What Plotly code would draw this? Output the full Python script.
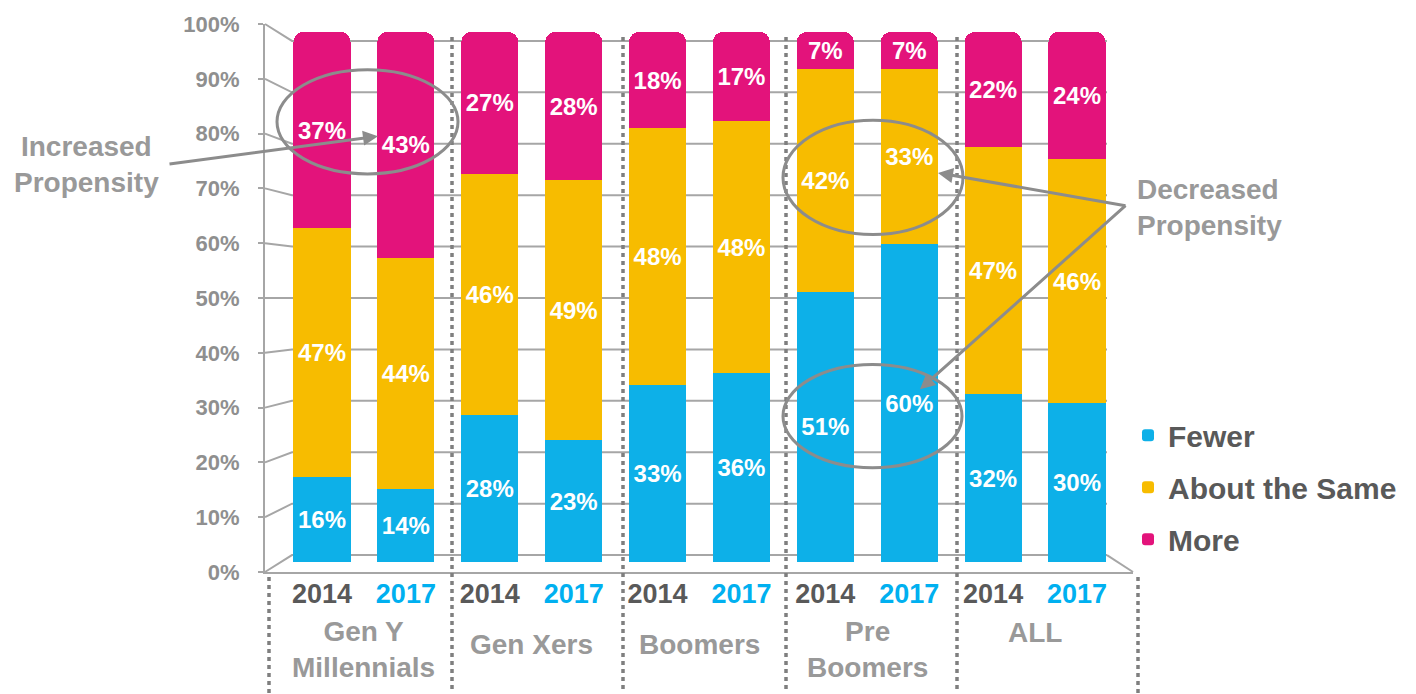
import plotly.graph_objects as go

# ---------------- data ----------------
groups = ["Gen Y<br>Millennials", "Gen Xers", "Boomers", "Pre<br>Boomers", "ALL"]
years = ["2014", "2017"]
series_names = ["Fewer", "About the Same", "More"]
fewer = [16, 14, 28, 23, 33, 36, 51, 60, 32, 30]
about_same = [47, 44, 46, 49, 48, 48, 42, 33, 47, 46]
more = [37, 43, 27, 28, 18, 17, 7, 7, 22, 24]
y_tick_values = [0, 10, 20, 30, 40, 50, 60, 70, 80, 90, 100]

# ---------------- style ----------------
FONT = "Liberation Sans, Arial, sans-serif"
colors = ["#0DB0E8", "#F7BC00", "#E3137B"]
GREY_TXT = "#999999"
GREY_AX = "#a6a6a6"
GREY_ANN = "#8c8c8c"
DARK = "#595959"
BLUE = "#00B0F0"

W, H = 1416, 694
PL, PR, PT, PB = 265, 1133, 20, 572          # plot area in pixels
BAR_BASE, BAR_TOP = 562, 28                   # pixel rows of 0% and 100% for the bars
FRONT_PER = (PB - PT) / 100.0                 # front axis scale (labels)
BACK_BASE, BACK_TOP = 555, 37                 # back wall grid
BACK_L, BACK_R = 292, 1107

def xp(px):
    return (px - PL) / (PR - PL)

def yp(py):
    return (PB - py) / (PB - PT)

# bar axis range so that 0 -> BAR_BASE and 100 -> BAR_TOP
bar_scale = (BAR_BASE - BAR_TOP) / 100.0
y_lo = -(PB - BAR_BASE) / bar_scale
y_hi = 100 + (BAR_TOP - PT) / bar_scale

# x positions: category centres
positions = list(range(len(groups) * len(years)))
first_c, last_c = 322, 1077
x_scale = (last_c - first_c) / (len(positions) - 1)
x_lo = -(first_c - PL) / x_scale
x_hi = positions[-1] + (PR - last_c) / x_scale

fig = go.Figure()
for name, vals, col in zip(series_names, [fewer, about_same, more], colors):
    fig.add_trace(go.Bar(
        x=positions, y=vals, name=name, width=0.68,
        marker=dict(color=col, line=dict(width=0)),
        text=[f"{v}%" for v in vals],
        textposition="inside", insidetextanchor="middle", textangle=0,
        textfont=dict(family=FONT, size=24, color="white", weight="bold"),
        legendgroup=name,
        hovertemplate=name + ": %{text}<extra></extra>",
    ))

# front-axis tick labels placed on the bar axis
tick_pos = [((PB - FRONT_PER * k) - BAR_BASE) / -bar_scale for k in y_tick_values]
tick_txt = [f"{k}%" for k in y_tick_values]

year_labels = []
for g in groups:
    for yv in years:
        if yv == "2017":
            year_labels.append(f'<span style="color:{BLUE}">{yv}</span>')
        else:
            year_labels.append(yv)

shapes = []
# back wall grid with 3D connector to the front axis
for k in y_tick_values:
    fy = PB - FRONT_PER * k
    by = BACK_BASE - (BACK_BASE - BACK_TOP) * k / 100.0
    shapes.append(dict(type="path", xref="paper", yref="paper",
                       path=f"M {xp(PL)},{yp(fy)} L {xp(BACK_L)},{yp(by)} L {xp(BACK_R)},{yp(by)}",
                       line=dict(color=GREY_AX, width=2), layer="below"))
# floor right diagonal
shapes.append(dict(type="line", xref="paper", yref="paper",
                   x0=xp(BACK_R), y0=yp(BACK_BASE), x1=xp(PR), y1=yp(PB),
                   line=dict(color=GREY_AX, width=2), layer="below"))
# dotted group separators
sep = [(269, 577), (452, 33), (623, 33), (786, 33), (957, 33), (1138, 577)]
for sx, sy in sep:
    shapes.append(dict(type="line", xref="paper", yref="paper",
                       x0=xp(sx), y0=yp(sy), x1=xp(sx), y1=yp(H),
                       line=dict(color="#7f7f7f", width=3.5, dash="4px,4px"), layer="above"))
# ellipses
for (x0, y0, x1, y1) in [(277, 66, 458, 171), (783, 117, 963, 232), (783, 363, 962, 467)]:
    shapes.append(dict(type="circle", xref="paper", yref="paper",
                       x0=xp(x0), x1=xp(x1), y0=yp(y1), y1=yp(y0),
                       line=dict(color=GREY_ANN, width=3), fillcolor="rgba(0,0,0,0)", layer="above"))

annotations = []
# group labels
group_label_y = [650, 645, 645, 650, 633]
for gi, g in enumerate(groups):
    annotations.append(dict(
        text=g, xref="x", yref="paper", x=gi * len(years) + (len(years) - 1) / 2,
        y=yp(group_label_y[gi]), showarrow=False, yanchor="middle", xanchor="center",
        font=dict(family=FONT, size=28, color=GREY_TXT, weight="bold")))

# callout texts
annotations.append(dict(text="Increased<br>Propensity", xref="paper", yref="paper",
                        x=xp(86), y=yp(162), showarrow=False, xanchor="center", yanchor="middle",
                        align="center", font=dict(family=FONT, size=28, color=GREY_TXT, weight="bold")))
annotations.append(dict(text="Decreased<br>Propensity", xref="paper", yref="paper",
                        x=xp(1135), y=yp(205), showarrow=False, xanchor="left", yanchor="middle",
                        align="left", font=dict(family=FONT, size=28, color=GREY_TXT, weight="bold")))

# arrows (tail -> tip)
for (tx, ty), (hx, hy) in [((168, 161), (378, 133)), ((1127, 203), (938, 170)), ((1127, 203), (920, 388))]:
    annotations.append(dict(text="", xref="paper", yref="paper", x=xp(hx), y=yp(hy),
                            ax=tx - hx, ay=ty - hy, axref="pixel", ayref="pixel",
                            showarrow=True, arrowhead=2, arrowsize=1, arrowwidth=3,
                            arrowcolor=GREY_ANN, standoff=0))

fig.update_layout(
    width=W, height=H,
    margin=dict(l=PL, r=W - PR, t=PT, b=H - PB, pad=0),
    paper_bgcolor="white", plot_bgcolor="white",
    barmode="stack", barnorm="percent", barcornerradius=10,
    uniformtext=dict(minsize=24, mode="show"),
    font=dict(family=FONT),
    showlegend=True,
    legend=dict(x=xp(1128), y=yp(408), xanchor="left", yanchor="top",
                traceorder="grouped", tracegroupgap=10, bgcolor="rgba(0,0,0,0)",
                font=dict(family=FONT, size=30, color=DARK, weight="bold")),
    xaxis=dict(range=[x_lo, x_hi], tickmode="array", tickvals=positions, ticktext=year_labels,
               showgrid=False, zeroline=False, showline=True, linecolor=GREY_AX, linewidth=2,
               ticks="", ticklabelstandoff=-3,
               tickfont=dict(family=FONT, size=27, color=DARK, weight="bold")),
    yaxis=dict(range=[y_lo, y_hi], tickmode="array", tickvals=tick_pos, ticktext=tick_txt,
               showgrid=False, zeroline=False, showline=True, linecolor=GREY_AX, linewidth=2,
               ticks="outside", ticklen=5, tickcolor=GREY_AX, tickwidth=2, ticklabelstandoff=14,
               tickfont=dict(family=FONT, size=22, color="#8f8f8f", weight="bold")),
    shapes=shapes, annotations=annotations,
)

fig.write_html("out.html", config={"displayModeBar": False},
               post_script="document.body.style.margin='0';document.body.style.overflow='hidden';")
